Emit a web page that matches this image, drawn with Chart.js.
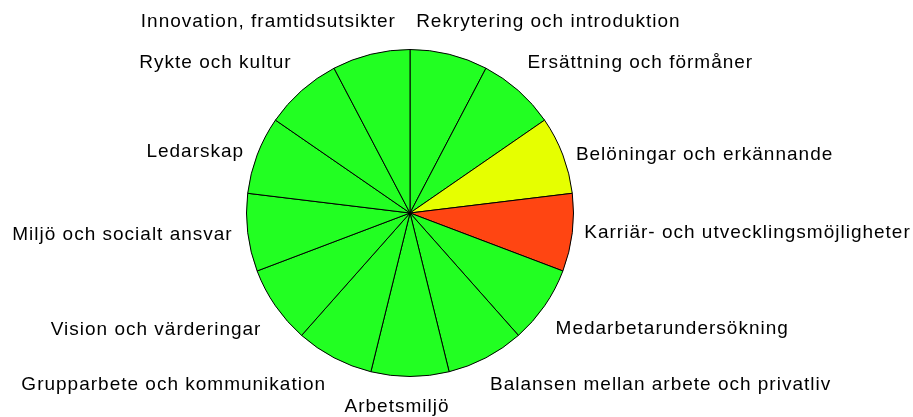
<!DOCTYPE html>
<html>
<head>
<meta charset="utf-8">
<script src="https://cdn.jsdelivr.net/npm/chart.js@4.4.1/dist/chart.umd.min.js"></script>
<style>
  html, body { margin: 0; padding: 0; background: #ffffff; }
  #wrap { width: 913px; height: 417px; position: relative; }
</style>
</head>
<body>
<div id="wrap"><canvas id="pie"></canvas></div>
<script>
// Thirteen areas, each with an equal share of the pie, coloured by status
const categories = [
  'Rekrytering och introduktion',
  'Ersättning och förmåner',
  'Belöningar och erkännande',
  'Karriär- och utvecklingsmöjligheter',
  'Medarbetarundersökning',
  'Balansen mellan arbete och privatliv',
  'Arbetsmiljö',
  'Grupparbete och kommunikation',
  'Vision och värderingar',
  'Miljö och socialt ansvar',
  'Ledarskap',
  'Rykte och kultur',
  'Innovation, framtidsutsikter'
];
const shares = [1, 1, 1, 1, 1, 1, 1, 1, 1, 1, 1, 1, 1];
const statuses = ['ok', 'ok', 'warn', 'bad', 'ok', 'ok', 'ok', 'ok', 'ok', 'ok', 'ok', 'ok', 'ok'];

const statusColors = { ok: '#22ff22', warn: '#e6ff00', bad: '#ff4512' };

// Label placement relative to the outer edge of each slice: [dx, dy, align]
const labelPlacement = [
  [-33, -32, 'left'],
  [9, -28, 'left'],
  [13, 0, 'left'],
  [12, 0, 'left'],
  [11, 23, 'left'],
  [4, 27, 'left'],
  [-13, 30, 'center'],
  [-8, 27, 'right'],
  [-14, 24, 'right'],
  [-15, 2, 'right'],
  [-13, -3, 'right'],
  [-10, -28, 'right'],
  [25, -32, 'right']
];

const sliceLabels = {
  id: 'sliceLabels',
  afterDatasetsDraw(chart) {
    const ctx = chart.ctx;
    const meta = chart.getDatasetMeta(0);
    ctx.save();
    ctx.font = '19px "Liberation Sans", Arial, sans-serif';
    ctx.letterSpacing = '1px';
    ctx.fillStyle = '#000000';
    ctx.textBaseline = 'middle';
    meta.data.forEach((arc, i) => {
      const p = arc.getProps(['x', 'y', 'startAngle', 'endAngle', 'outerRadius'], true);
      const mid = (p.startAngle + p.endAngle) / 2;
      const ax = p.x + Math.cos(mid) * p.outerRadius;
      const ay = p.y + Math.sin(mid) * p.outerRadius;
      const [dx, dy, align] = labelPlacement[i];
      ctx.textAlign = align;
      ctx.fillText(chart.data.labels[i], ax + dx, ay + dy);
    });
    ctx.restore();
  }
};

new Chart(document.getElementById('pie'), {
  type: 'pie',
  data: {
    labels: categories,
    datasets: [{
      data: shares,
      backgroundColor: statuses.map(s => statusColors[s]),
      borderColor: '#000000',
      borderWidth: 1,
      borderAlign: 'center'
    }]
  },
  options: {
    responsive: true,
    maintainAspectRatio: false,
    animation: false,
    rotation: 0,
    layout: { padding: { top: 49, bottom: 40, left: 246, right: 339 } },
    plugins: {
      legend: { display: false },
      tooltip: { enabled: false }
    }
  },
  plugins: [sliceLabels]
});
</script>
</body>
</html>
